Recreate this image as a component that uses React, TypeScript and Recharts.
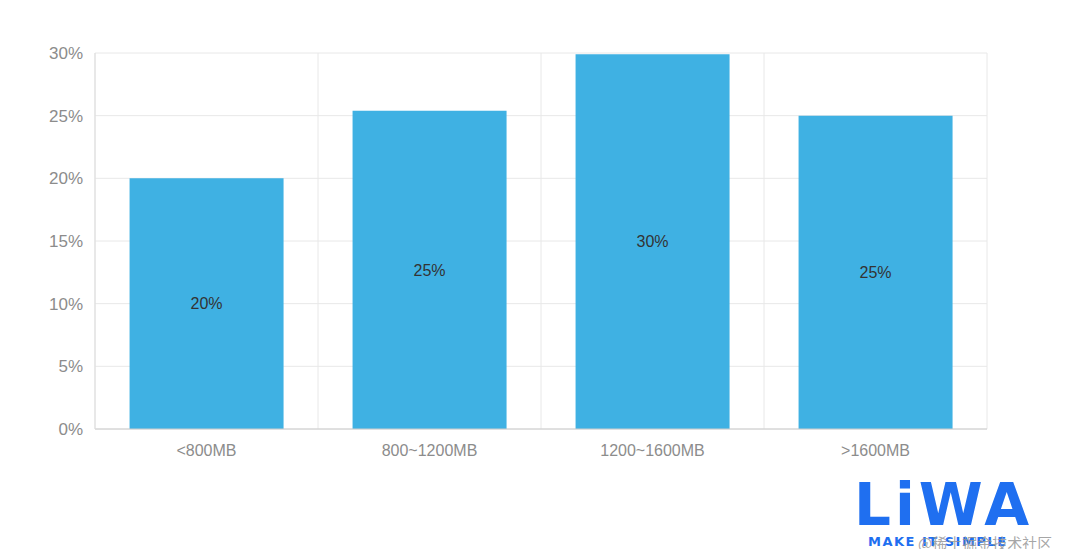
import React from 'react';
import { BarChart, Bar, XAxis, YAxis, CartesianGrid, LabelList } from 'recharts';

const categories = ['<800MB', '800~1200MB', '1200~1600MB', '>1600MB'];
const shares = [20, 25.4, 29.9, 25];
const labels = ['20%', '25%', '30%', '25%'];
const yTicks = [0, 5, 10, 15, 20, 25, 30];

const data = categories.map((c, i) => ({ name: c, value: shares[i], label: labels[i] }));

const FONT = 'Helvetica, Arial, "Liberation Sans", sans-serif';

export default function App() {
  return (
    <div style={{ position: 'relative', width: 1064, height: 541, fontFamily: FONT }}>
      <BarChart
        width={1064}
        height={541}
        data={data}
        margin={{ top: 45, right: 85, bottom: 90, left: 0 }}
        barCategoryGap="15.5%"
      >
        <CartesianGrid
          stroke="#e8e8e8"
          verticalCoordinatesGenerator={({ offset }: any) =>
            [0, 1, 2, 3, 4].map((i) => offset.left + (i * offset.width) / 4)
          }
        />
        <XAxis
          dataKey="name"
          tickLine={false}
          axisLine={{ stroke: '#cccccc' }}
          tick={{ fill: '#8c8c8c', fontSize: 16, fontFamily: FONT }}
          tickMargin={10}
        />
        <YAxis
          width={87}
          domain={[0, 30]}
          ticks={yTicks}
          tickFormatter={(v: number) => `${v}%`}
          tickLine={false}
          axisLine={{ stroke: '#dddddd' }}
          tick={{ fill: '#8c8c8c', fontSize: 17, fontFamily: FONT }}
          tickMargin={6}
        />
        <Bar dataKey="value" fill="#3fb1e3" isAnimationActive={false}>
          <LabelList dataKey="label" position="center" fill="#333333" fontSize={16} fontFamily={FONT} />
        </Bar>
      </BarChart>
      <div
        style={{
          position: 'absolute',
          left: 846,
          top: 468,
          fontFamily: '"DejaVu Sans", Arial, sans-serif',
          fontWeight: 'bold',
          fontSize: 58,
          color: '#1f6ff0',
          letterSpacing: 4,
          lineHeight: '58px',
        }}
      >
        LiWA
      </div>
      <div
        style={{
          position: 'absolute',
          left: 860,
          top: 526,
          fontFamily: '"DejaVu Sans", Arial, sans-serif',
          fontWeight: 'bold',
          fontSize: 13,
          color: '#1f6ff0',
          letterSpacing: 1.5,
        }}
      >
        MAKE IT SIMPLE
      </div>
      <div
        style={{
          position: 'absolute',
          left: 910,
          top: 524,
          fontFamily: '"Noto Sans CJK SC", sans-serif',
          fontSize: 15,
          color: 'rgba(150,150,150,0.85)',
        }}
      >
        @稀土掘金技术社区
      </div>
    </div>
  );
}
